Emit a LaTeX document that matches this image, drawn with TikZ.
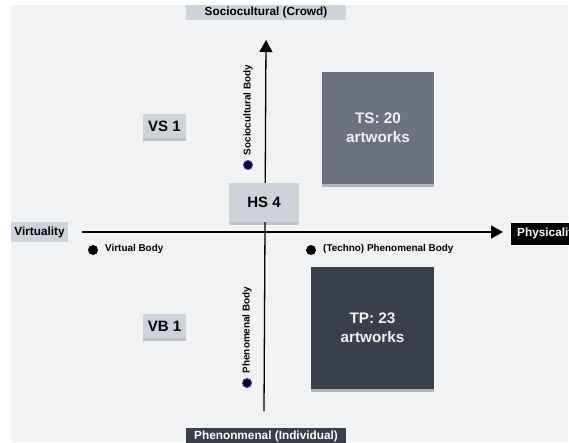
\documentclass[tikz,border=0pt]{standalone}
\usepackage{fontspec}
\setmainfont{Liberation Sans}
\usetikzlibrary{arrows.meta, shadows}
\definecolor{canvasgray}{RGB}{241,242,244}
\definecolor{tagblue}{RGB}{205,211,219}
\definecolor{techgray}{RGB}{108,114,127}
\definecolor{phenoslate}{RGB}{58,64,75}
\definecolor{dotblue}{RGB}{70,40,230}

\begin{document}
\begin{tikzpicture}[x=1pt, y=-1pt,
  axislabel/.style={rectangle, fill=tagblue, inner sep=0pt, font=\bfseries\fontsize{11.8}{13}\selectfont},
  quadtag/.style={rectangle, fill=tagblue, inner sep=0pt, font=\bfseries\fontsize{15}{17}\selectfont,
    drop shadow={shadow xshift=0pt, shadow yshift=-2.5pt, fill=black, opacity=0.2}},
  countbox/.style={rectangle, inner sep=0pt, text=white!94!black, align=center,
    font=\bfseries\fontsize{15.3}{19}\selectfont,
    drop shadow={shadow xshift=0pt, shadow yshift=-3pt, fill=black, opacity=0.25}},
  bodydot/.style={circle, fill=black, inner sep=0pt, minimum size=10pt},
  bodytext/.style={font=\bfseries\fontsize{9.9}{11}\selectfont, inner sep=0pt},
  axis/.style={line width=1.3pt, -{Triangle[length=12pt, width=13pt]}}]
\useasboundingbox (0,0) rectangle (569,442);
% Canvas
\fill[canvasgray] (11,5) rectangle (568,442);

% Axes
\coordinate (west) at (82,232);
\coordinate (east) at (503,232);
\coordinate (south) at (264,411);
\coordinate (north) at (266,40);
\draw[axis] (west) -- (east);
\draw[axis] (south) -- (north);

% Axis labels
\node[axislabel, minimum width=160pt, minimum height=15pt] (crowd) at (266,12.5) {Sociocultural (Crowd)};
\node[axislabel, minimum width=57pt, minimum height=20pt] (virtuality) at (39.5,232) {Virtuality};
\node[rectangle, fill=black, text=white, anchor=west, inner xsep=6pt, inner ysep=0pt, minimum height=22pt,
  font=\bfseries\fontsize{11.8}{13}\selectfont] (physicality) at (511,233.5) {Physicality};
\node[axislabel, fill=phenoslate, text=white, minimum width=160pt, minimum height=16pt] (individual) at (266,436) {Phenonmenal (Individual)};

% Bodies
\node[bodydot] (virtualdot) at (93,250) {};
\node[bodytext, anchor=west] (virtualbody) at (105,249) {Virtual Body};
\node[bodydot] (technodot) at (311,250) {};
\node[bodytext, anchor=west] (technobody) at (323,249) {(Techno) Phenomenal Body};
\node[bodydot, draw=dotblue, line width=1pt, minimum size=9pt] (sociodot) at (248,165) {};
\node[bodytext, rotate=90] (sociobody) at (248,110) {Sociocultural Body};
\node[bodydot, draw=dotblue, line width=1pt, minimum size=9pt] (phenodot) at (247,383) {};
\node[bodytext, rotate=90] (phenobody) at (247,330) {Phenomenal Body};

% Quadrant tags
\node[quadtag, minimum width=43pt, minimum height=24pt] (vs) at (164.5,126) {VS 1};
\node[quadtag, minimum width=43pt, minimum height=24pt] (vb) at (164.5,326) {VB 1};
\node[quadtag, minimum width=70pt, minimum height=39pt] (hs) at (264,202.5) {HS 4};

% Artwork counts
\node[countbox, fill=techgray, minimum width=112pt, minimum height=112pt] (ts) at (378,128) {TS: 20\\artworks};
\node[countbox, fill=phenoslate, minimum width=123pt, minimum height=122pt] (tp) at (372.5,328) {TP: 23\\artworks};
\end{tikzpicture}
\end{document}
